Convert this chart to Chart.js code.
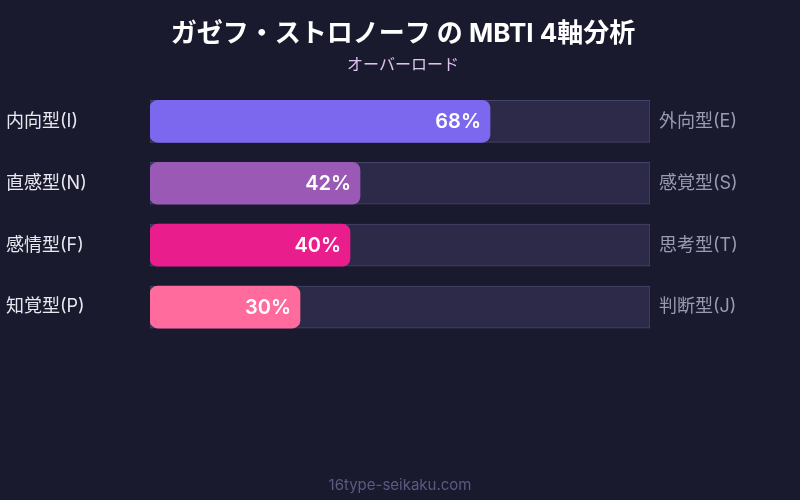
<!DOCTYPE html>
<html>
<head>
<meta charset="utf-8">
<script src="https://cdn.jsdelivr.net/npm/chart.js@4"></script>
<style>
  html, body { margin: 0; padding: 0; background: #1a1a2e; }
  #wrap { width: 800px; height: 500px; position: relative; }
</style>
</head>
<body>
<div id="wrap"><canvas id="mbti" width="800" height="500"></canvas></div>
<script>
const leftLabels = ['内向型(I)', '直感型(N)', '感情型(F)', '知覚型(P)'];
const rightLabels = ['外向型(E)', '感覚型(S)', '思考型(T)', '判断型(J)'];
const values = [68, 42, 40, 30];
const fullScale = [100, 100, 100, 100];
const barColors = ['#7b68ee', '#9b59b6', '#e91e8c', '#ff6b9d'];

const FONT = 'Inter, "Noto Sans CJK JP", "Noto Sans", sans-serif';

// percent text drawn inside each bar, right aligned
const valueLabels = {
  id: 'valueLabels',
  afterDatasetsDraw(chart) {
    const ctx = chart.ctx;
    const meta = chart.getDatasetMeta(0);
    ctx.save();
    ctx.font = '600 20px ' + FONT;
    ctx.fillStyle = '#ffffff';
    ctx.textAlign = 'right';
    ctx.textBaseline = 'middle';
    meta.data.forEach((bar, i) => {
      ctx.fillText(values[i] + '%', bar.x - 9, bar.y + 1);
    });
    ctx.restore();
  }
};

const footer = {
  id: 'footer',
  afterDraw(chart) {
    const ctx = chart.ctx;
    ctx.save();
    ctx.font = '15px ' + FONT;
    ctx.fillStyle = '#5c5a80';
    ctx.textAlign = 'center';
    ctx.textBaseline = 'middle';
    ctx.fillText('16type-seikaku.com', chart.width / 2, 485);
    ctx.restore();
  }
};

new Chart(document.getElementById('mbti'), {
  type: 'bar',
  data: {
    labels: leftLabels,
    datasets: [
      {
        data: values,
        backgroundColor: barColors,
        borderRadius: 8,
        borderSkipped: false,
        barThickness: 42,
        grouped: false,
        order: 0
      },
      {
        data: fullScale,
        backgroundColor: '#2c2a48',
        borderColor: '#45446a',
        borderWidth: 1,
        borderSkipped: false,
        barThickness: 42,
        grouped: false,
        order: 1
      }
    ]
  },
  options: {
    indexAxis: 'y',
    responsive: false,
    animation: false,
    devicePixelRatio: 1,
    layout: { padding: { left: 6, right: 0, top: 0, bottom: 162 } },
    plugins: {
      legend: { display: false },
      tooltip: { enabled: false },
      title: {
        display: true,
        text: 'ガゼフ・ストロノーフ の MBTI 4軸分析',
        color: '#ffffff',
        font: { family: FONT, size: 26, weight: 'bold' },
        padding: { top: 19, bottom: 5 }
      },
      subtitle: {
        display: true,
        text: 'オーバーロード',
        color: '#e0c4f0',
        font: { family: FONT, size: 16 },
        padding: { bottom: 16 }
      }
    },
    scales: {
      x: {
        min: 0,
        max: 100,
        display: false
      },
      y: {
        position: 'left',
        grid: { display: false, drawTicks: false },
        border: { display: false },
        afterFit(scale) { scale.width = 144; },
        ticks: {
          crossAlign: 'far',
          color: '#e8e8f0',
          padding: 0,
          font: { family: FONT, size: 18 }
        }
      },
      y2: {
        type: 'category',
        position: 'right',
        labels: rightLabels,
        offset: true,
        grid: { display: false, drawTicks: false },
        border: { display: false },
        afterFit(scale) { scale.width = 150; },
        ticks: {
          crossAlign: 'near',
          color: '#9a9ab4',
          padding: 9,
          font: { family: FONT, size: 18 }
        }
      }
    }
  },
  plugins: [valueLabels, footer]
});
</script>
</body>
</html>
